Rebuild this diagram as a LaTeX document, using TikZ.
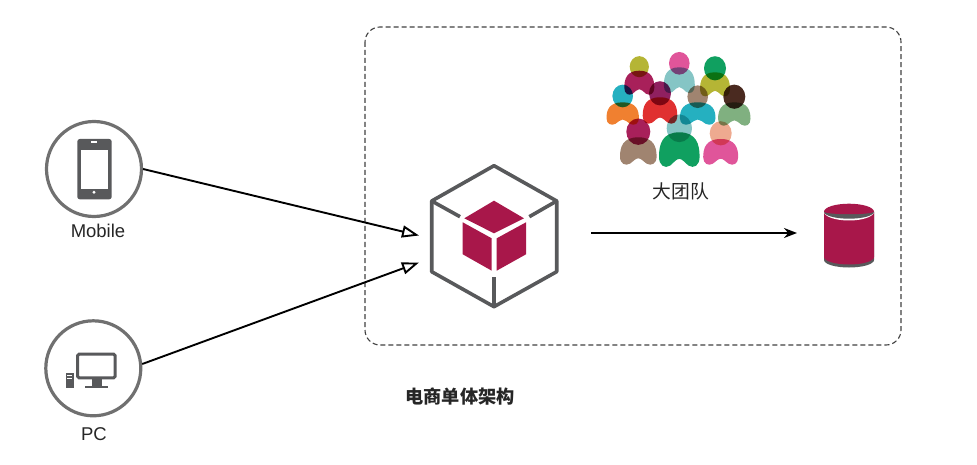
\documentclass[tikz,border=0pt]{standalone}
\usepackage{fontspec}
\setmainfont{Liberation Sans}
\newfontfamily\cjk{Noto Sans CJK SC}
\usetikzlibrary{arrows.meta}
\definecolor{crimson}{RGB}{168,23,74}
\definecolor{iconGrey}{RGB}{88,89,91}
\definecolor{ringGrey}{RGB}{112,112,112}
\definecolor{olive}{RGB}{181,181,53}
\definecolor{maroon}{RGB}{168,32,90}
\definecolor{paleTeal}{RGB}{133,197,197}
\definecolor{rose}{RGB}{224,85,154}
\definecolor{emerald}{RGB}{16,160,96}
\definecolor{aqua}{RGB}{37,176,192}
\definecolor{tangerine}{RGB}{240,128,48}
\definecolor{scarlet}{RGB}{224,48,48}
\definecolor{plum}{RGB}{144,32,96}
\definecolor{taupe}{RGB}{160,132,112}
\definecolor{sage}{RGB}{128,176,128}
\definecolor{umber}{RGB}{74,42,32}
\definecolor{peach}{RGB}{238,170,144}
\tikzset{
  link/.style={line width=1.9pt, -{Triangle[open, length=17pt, width=12pt]}},
  ring/.style={circle, draw=ringGrey, line width=3.2pt, fill=white, minimum size=95pt, inner sep=0pt},
  caption/.style={font=\fontsize{18.5}{20}\selectfont, text=black!85},
  cubeline/.style={draw=iconGrey, line width=3.6pt, line join=round},
}
% cx, top of body, half width, body height, body colour, head y, head radius, head colour
\newcommand{\drawperson}[8]{
  \fill[#5, blend mode=multiply] (#1, #2)
    .. controls ({#1+0.85*#3}, #2) and ({#1+#3}, {#2+0.35*#4}) .. ({#1+#3}, {#2+0.7*#4})
    .. controls ({#1+#3}, {#2+0.95*#4}) and ({#1+0.72*#3}, {#2+1.05*#4}) .. ({#1+0.45*#3}, {#2+0.95*#4})
    .. controls ({#1+0.28*#3}, {#2+0.87*#4}) and ({#1+0.15*#3}, {#2+0.76*#4}) .. (#1, {#2+0.76*#4})
    .. controls ({#1-0.15*#3}, {#2+0.76*#4}) and ({#1-0.28*#3}, {#2+0.87*#4}) .. ({#1-0.45*#3}, {#2+0.95*#4})
    .. controls ({#1-0.72*#3}, {#2+1.05*#4}) and ({#1-#3}, {#2+0.95*#4}) .. ({#1-#3}, {#2+0.7*#4})
    .. controls ({#1-#3}, {#2+0.35*#4}) and ({#1-0.85*#3}, #2) .. (#1, #2) -- cycle;
  \fill[#8, blend mode=multiply] (#1, #6) ellipse[x radius=#7, y radius=1.1*#7];
}
\begin{document}
\begin{tikzpicture}[x=1pt, y=-1pt]
  \useasboundingbox (0,0) rectangle (977,465);
  \draw[black!75, line width=1.1pt, dash pattern=on 5pt off 3pt, rounded corners=15pt] (365,27) rectangle (901,345);

  % team
  \drawperson{639.3}{70.7}{15}{24.3}{maroon}{66.7}{9.6}{olive}
  \drawperson{679.3}{67.3}{15.5}{26}{paleTeal}{63.3}{10.3}{rose}
  \drawperson{715}{72.3}{15}{24.3}{olive}{68.3}{11}{emerald}
  \drawperson{622.7}{102.3}{16.2}{22.7}{tangerine}{96}{10.3}{aqua}
  \drawperson{660}{97.3}{17.3}{26.7}{scarlet}{93.3}{11}{plum}
  \drawperson{697.7}{102.3}{17.8}{22.7}{aqua}{96.7}{10.3}{taupe}
  \drawperson{734.3}{102.3}{16.2}{23.7}{sage}{96.7}{11}{umber}
  \drawperson{638.3}{137.3}{18.3}{27.7}{taupe}{131.7}{12}{maroon}
  \drawperson{679.3}{132.3}{20.3}{35}{emerald}{128.3}{12.6}{paleTeal}
  \drawperson{720.7}{139}{17.5}{26}{rose}{133.3}{11}{peach}
  \node[font=\cjk\fontsize{18.8}{20}\selectfont, text=black!85] (team) at (681,191) {大团队};

  % clients
  \node[ring] (mobile) at (94,169) {};
  \fill[iconGrey, rounded corners=2.5pt] (77.3,139) rectangle (111.7,199.3);
  \fill[white] (81,150) rectangle (108.3,189);
  \fill[white] (91,141.5) rectangle (97,143.2);
  \fill[white] (94,192.3) circle (1.6);
  \node[caption] (mobilelabel) at (98,231) {Mobile};

  \node[ring] (pc) at (93.3,368.3) {};
  \draw[iconGrey, line width=3pt, rounded corners=1.5pt] (77.5,354.2) rectangle (115.2,377.8);
  \fill[iconGrey] (91.7,379) rectangle (101.7,386);
  \fill[iconGrey] (85,386) rectangle (107.7,388);
  \fill[iconGrey] (66,373.3) rectangle (73.7,388);
  \fill[white] (67.3,375) rectangle (72.4,376);
  \fill[white] (67.3,377.5) rectangle (72.4,378.5);
  \node[caption] (pclabel) at (94,434) {PC};

  % monolith
  \draw[cubeline] (494,165.7) -- (556.7,201) -- (556.7,271.7) -- (494,306.7) -- (431.7,271.7) -- (431.7,201) -- cycle;
  \draw[cubeline] (431.7,201) -- (460,216.7);
  \draw[cubeline] (556.7,201) -- (529.3,216.7);
  \draw[cubeline] (494,306.7) -- (494,276.7);
  \fill[crimson] (494,200.7) -- (524,218.3) -- (494,233.3) -- (464.3,218.3) -- cycle;
  \fill[crimson] (462.7,222.3) -- (491.7,238.3) -- (491.7,270.7) -- (462.7,254.3) -- cycle;
  \fill[crimson] (496.7,238.3) -- (526,222.3) -- (526,254.3) -- (496.7,270.7) -- cycle;
  \coordinate (monoA) at (419,235.5);
  \coordinate (monoB) at (419,262.5);
  \coordinate (monoOut) at (591,233);

  % database
  \fill[iconGrey] (824,212) -- (824,260) arc[start angle=180, end angle=0, x radius=25, y radius=7.5] -- (874,212) -- cycle;
  \fill[crimson] (824,212) -- (824,257) arc[start angle=180, end angle=0, x radius=25, y radius=7.5] -- (874,212) -- cycle;
  \fill[white] (824,211.7) arc[start angle=180, end angle=0, x radius=25, y radius=8.8] -- cycle;
  \fill[iconGrey] (824,211.7) arc[start angle=180, end angle=0, x radius=25, y radius=7] -- cycle;
  \fill[crimson] (824,211.7) arc[start angle=180, end angle=360, x radius=25, y radius=8] arc[start angle=0, end angle=180, x radius=25, y radius=2.5] -- cycle;
  \coordinate (dbIn) at (797,233);

  % connectors
  \draw[link] (mobile.east) -- (monoA);
  \draw[link] (pc.5) -- (monoB);
  \draw[line width=1.9pt, -{Stealth[length=13pt, width=10pt]}] (monoOut) -- (dbIn);

  \node[font=\cjk\bfseries\fontsize{18.2}{20}\selectfont, text=black!85] (title) at (460,397) {电商单体架构};
\end{tikzpicture}
\end{document}
